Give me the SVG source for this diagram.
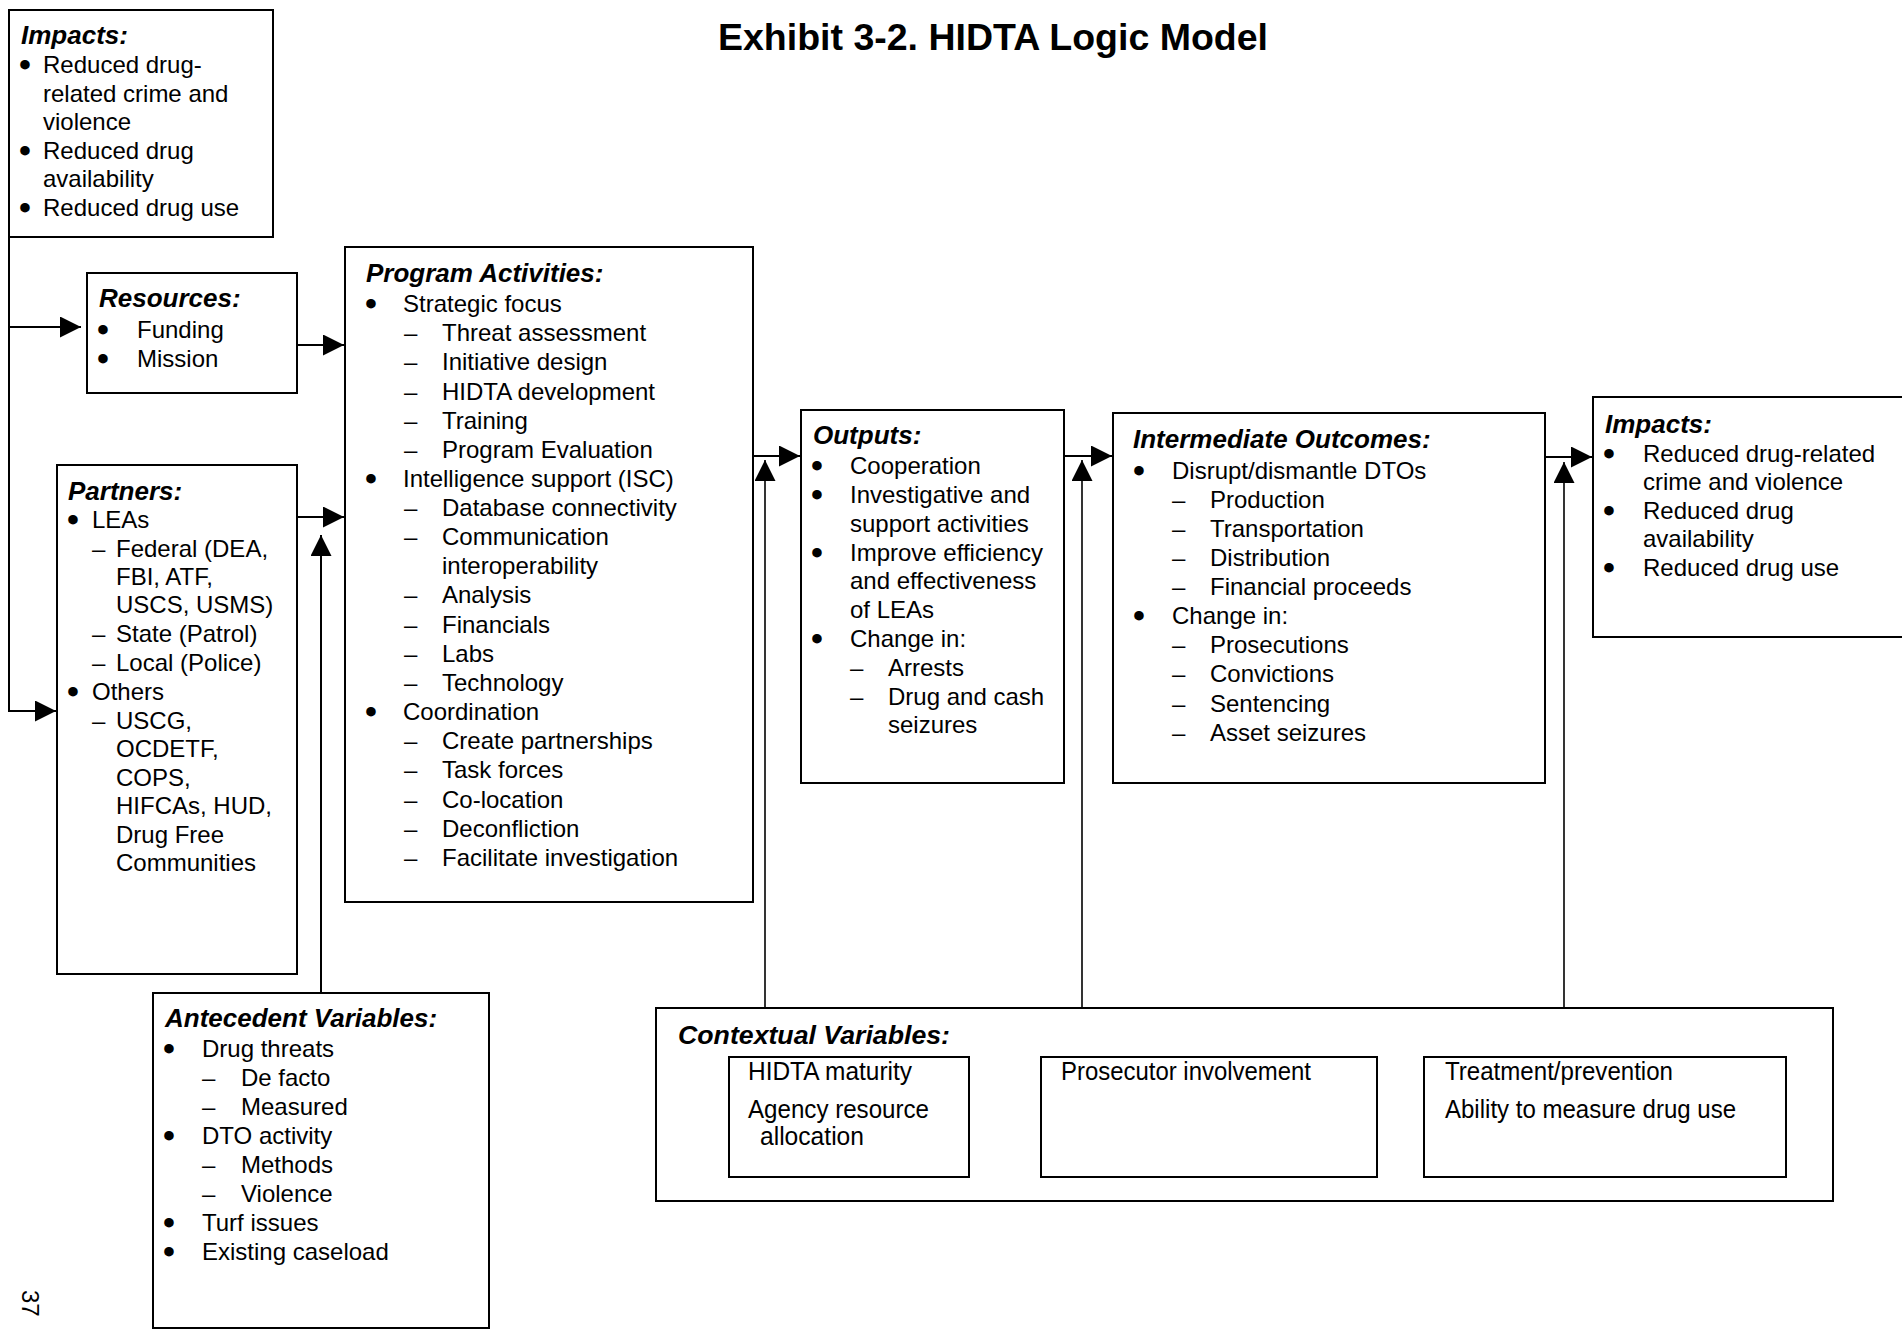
<svg xmlns="http://www.w3.org/2000/svg" width="1902" height="1329" viewBox="0 0 1902 1329">
<style>
  text { font-family: "Liberation Sans", Arial, sans-serif; font-size: 24px; fill: #000; }
  .h { font-weight: bold; font-style: italic; font-size: 26px; }
  .title { font-weight: bold; font-size: 37.5px; }
  .b { text-anchor: middle; stroke: #000; stroke-width: 3; stroke-linejoin: round; }
  .c { font-size: 25px; }
  .box { fill: #fff; stroke: #000; stroke-width: 2; }
  .sub { fill: none; stroke: #000; stroke-width: 2; }
  .conn { fill: none; stroke: #000; stroke-width: 2; }
  .thin { stroke-width: 1.6; }
</style>
<defs>
  <marker id="arr" markerUnits="userSpaceOnUse" markerWidth="21" markerHeight="21" viewBox="0 0 20 20" refX="20" refY="10" orient="auto">
    <path d="M0,0 L20,10 L0,20 Z" fill="#000"/>
  </marker>
</defs>
<rect width="1902" height="1329" fill="#fff"/>

<text class="title" x="993" y="50" text-anchor="middle">Exhibit 3-2. HIDTA Logic Model</text>

<g id="connectors">
  <path class="conn" d="M9,236 V711 H56" marker-end="url(#arr)"/>
  <path class="conn" d="M9,327 H81" marker-end="url(#arr)"/>
  <path class="conn" d="M297,345 H344" marker-end="url(#arr)"/>
  <path class="conn" d="M297,517 H344" marker-end="url(#arr)"/>
  <path class="conn" d="M321,993 V535" marker-end="url(#arr)"/>
  <path class="conn" d="M753,456 H800" marker-end="url(#arr)"/>
  <path class="conn thin" d="M765,1008 V460" marker-end="url(#arr)"/>
  <path class="conn" d="M1064,456 H1112" marker-end="url(#arr)"/>
  <path class="conn thin" d="M1082,1008 V460" marker-end="url(#arr)"/>
  <path class="conn" d="M1545,457 H1592" marker-end="url(#arr)"/>
  <path class="conn thin" d="M1564,1008 V462" marker-end="url(#arr)"/>
</g>

<g id="impacts-left">
  <rect class="box" x="9" y="10" width="264" height="227"/>
  <text class="h" x="21" y="44">Impacts:</text>
  <text class="b" x="25" y="73">•</text>
  <text x="43" y="73">Reduced drug-</text>
  <text x="43" y="102">related crime and</text>
  <text x="43" y="130">violence</text>
  <text class="b" x="25" y="159">•</text>
  <text x="43" y="159">Reduced drug</text>
  <text x="43" y="187">availability</text>
  <text class="b" x="25" y="216">•</text>
  <text x="43" y="216">Reduced drug use</text>
</g>

<g id="resources">
  <rect class="box" x="87" y="273" width="210" height="120"/>
  <text class="h" x="99" y="307">Resources:</text>
  <text class="b" x="103" y="338">•</text>
  <text x="137" y="338">Funding</text>
  <text class="b" x="103" y="367">•</text>
  <text x="137" y="367">Mission</text>
</g>

<g id="partners">
  <rect class="box" x="57" y="465" width="240" height="509"/>
  <text class="h" x="68" y="500">Partners:</text>
  <text class="b" x="73" y="528">•</text>
  <text x="92" y="528">LEAs</text>
  <text x="92" y="557">–</text>
  <text x="116" y="557">Federal (DEA,</text>
  <text x="116" y="585">FBI, ATF,</text>
  <text x="116" y="613">USCS, USMS)</text>
  <text x="92" y="642">–</text>
  <text x="116" y="642">State (Patrol)</text>
  <text x="92" y="671">–</text>
  <text x="116" y="671">Local (Police)</text>
  <text class="b" x="73" y="700">•</text>
  <text x="92" y="700">Others</text>
  <text x="92" y="729">–</text>
  <text x="116" y="729">USCG,</text>
  <text x="116" y="757">OCDETF,</text>
  <text x="116" y="786">COPS,</text>
  <text x="116" y="814">HIFCAs, HUD,</text>
  <text x="116" y="843">Drug Free</text>
  <text x="116" y="871">Communities</text>
</g>

<g id="program-activities">
  <rect class="box" x="345" y="247" width="408" height="655"/>
  <text class="h" x="366" y="282">Program Activities:</text>
  <text class="b" x="371" y="312">•</text>
  <text x="403" y="312">Strategic focus</text>
  <text x="404" y="341">–</text><text x="442" y="341">Threat assessment</text>
  <text x="404" y="370">–</text><text x="442" y="370">Initiative design</text>
  <text x="404" y="400">–</text><text x="442" y="400">HIDTA development</text>
  <text x="404" y="429">–</text><text x="442" y="429">Training</text>
  <text x="404" y="458">–</text><text x="442" y="458">Program Evaluation</text>
  <text class="b" x="371" y="487">•</text>
  <text x="403" y="487">Intelligence support (ISC)</text>
  <text x="404" y="516">–</text><text x="442" y="516">Database connectivity</text>
  <text x="404" y="545">–</text><text x="442" y="545">Communication</text>
  <text x="442" y="574">interoperability</text>
  <text x="404" y="603">–</text><text x="442" y="603">Analysis</text>
  <text x="404" y="633">–</text><text x="442" y="633">Financials</text>
  <text x="404" y="662">–</text><text x="442" y="662">Labs</text>
  <text x="404" y="691">–</text><text x="442" y="691">Technology</text>
  <text class="b" x="371" y="720">•</text>
  <text x="403" y="720">Coordination</text>
  <text x="404" y="749">–</text><text x="442" y="749">Create partnerships</text>
  <text x="404" y="778">–</text><text x="442" y="778">Task forces</text>
  <text x="404" y="808">–</text><text x="442" y="808">Co-location</text>
  <text x="404" y="837">–</text><text x="442" y="837">Deconfliction</text>
  <text x="404" y="866">–</text><text x="442" y="866">Facilitate investigation</text>
</g>

<g id="outputs">
  <rect class="box" x="801" y="410" width="263" height="373"/>
  <text class="h" x="813" y="444">Outputs:</text>
  <text class="b" x="817" y="474">•</text>
  <text x="850" y="474">Cooperation</text>
  <text class="b" x="817" y="503">•</text>
  <text x="850" y="503">Investigative and</text>
  <text x="850" y="532">support activities</text>
  <text class="b" x="817" y="561">•</text>
  <text x="850" y="561">Improve efficiency</text>
  <text x="850" y="589">and effectiveness</text>
  <text x="850" y="618">of LEAs</text>
  <text class="b" x="817" y="647">•</text>
  <text x="850" y="647">Change in:</text>
  <text x="850" y="676">–</text><text x="888" y="676">Arrests</text>
  <text x="850" y="705">–</text><text x="888" y="705">Drug and cash</text>
  <text x="888" y="733">seizures</text>
</g>

<g id="intermediate-outcomes">
  <rect class="box" x="1113" y="413" width="432" height="370"/>
  <text class="h" x="1133" y="448">Intermediate Outcomes:</text>
  <text class="b" x="1139" y="479">•</text>
  <text x="1172" y="479">Disrupt/dismantle DTOs</text>
  <text x="1172" y="508">–</text><text x="1210" y="508">Production</text>
  <text x="1172" y="537">–</text><text x="1210" y="537">Transportation</text>
  <text x="1172" y="566">–</text><text x="1210" y="566">Distribution</text>
  <text x="1172" y="595">–</text><text x="1210" y="595">Financial proceeds</text>
  <text class="b" x="1139" y="624">•</text>
  <text x="1172" y="624">Change in:</text>
  <text x="1172" y="653">–</text><text x="1210" y="653">Prosecutions</text>
  <text x="1172" y="682">–</text><text x="1210" y="682">Convictions</text>
  <text x="1172" y="712">–</text><text x="1210" y="712">Sentencing</text>
  <text x="1172" y="741">–</text><text x="1210" y="741">Asset seizures</text>
</g>

<g id="impacts-right">
  <rect class="box" x="1593" y="397" width="330" height="240"/>
  <text class="h" x="1605" y="433">Impacts:</text>
  <text class="b" x="1609" y="462">•</text>
  <text x="1643" y="462">Reduced drug-related</text>
  <text x="1643" y="490">crime and violence</text>
  <text class="b" x="1609" y="519">•</text>
  <text x="1643" y="519">Reduced drug</text>
  <text x="1643" y="547">availability</text>
  <text class="b" x="1609" y="576">•</text>
  <text x="1643" y="576">Reduced drug use</text>
</g>

<g id="antecedent-variables">
  <rect class="box" x="153" y="993" width="336" height="335"/>
  <text class="h" x="165" y="1027">Antecedent Variables:</text>
  <text class="b" x="169" y="1057">•</text>
  <text x="202" y="1057">Drug threats</text>
  <text x="202" y="1086">–</text><text x="241" y="1086">De facto</text>
  <text x="202" y="1115">–</text><text x="241" y="1115">Measured</text>
  <text class="b" x="169" y="1144">•</text>
  <text x="202" y="1144">DTO activity</text>
  <text x="202" y="1173">–</text><text x="241" y="1173">Methods</text>
  <text x="202" y="1202">–</text><text x="241" y="1202">Violence</text>
  <text class="b" x="169" y="1231">•</text>
  <text x="202" y="1231">Turf issues</text>
  <text class="b" x="169" y="1260">•</text>
  <text x="202" y="1260">Existing caseload</text>
</g>

<g id="contextual-variables">
  <rect class="box" x="656" y="1008" width="1177" height="193"/>
  <text class="h" x="678" y="1044" textLength="272" lengthAdjust="spacingAndGlyphs">Contextual Variables:</text>
  <g id="ctx-1">
    <rect class="sub" x="729" y="1057" width="240" height="120"/>
    <text class="c" x="748" y="1080" textLength="164" lengthAdjust="spacingAndGlyphs">HIDTA maturity</text>
    <text class="c" x="748" y="1118" textLength="181" lengthAdjust="spacingAndGlyphs">Agency resource</text>
    <text class="c" x="760" y="1145" textLength="104" lengthAdjust="spacingAndGlyphs">allocation</text>
  </g>
  <g id="ctx-2">
    <rect class="sub" x="1041" y="1057" width="336" height="120"/>
    <text class="c" x="1061" y="1080" textLength="250" lengthAdjust="spacingAndGlyphs">Prosecutor involvement</text>
  </g>
  <g id="ctx-3">
    <rect class="sub" x="1424" y="1057" width="362" height="120"/>
    <text class="c" x="1445" y="1080" textLength="228" lengthAdjust="spacingAndGlyphs">Treatment/prevention</text>
    <text class="c" x="1445" y="1118" textLength="291" lengthAdjust="spacingAndGlyphs">Ability to measure drug use</text>
  </g>
</g>

<text x="22" y="1290" font-size="22" transform="rotate(90 22 1290)">37</text>
</svg>
